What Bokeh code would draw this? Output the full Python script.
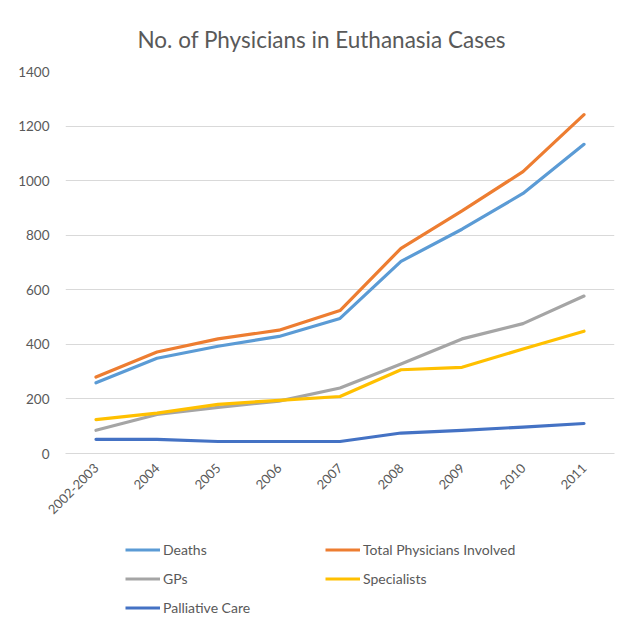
import math
from bokeh.plotting import figure
from bokeh.layouts import column
from bokeh.models import FactorRange, Range1d, Legend, LegendItem, SingleIntervalTicker
from bokeh.embed import file_html
from bokeh.resources import INLINE

years = ["2002-2003", "2004", "2005", "2006", "2007", "2008", "2009", "2010", "2011"]
deaths = [259, 349, 393, 429, 495, 704, 822, 953, 1133]
total_physicians = [280, 372, 420, 452, 524, 752, 889, 1033, 1242]
gps = [85, 143, 169, 192, 240, 328, 420, 476, 577]
specialists = [124, 148, 180, 195, 209, 307, 316, 383, 448]
palliative_care = [52, 52, 44, 44, 44, 75, 85, 97, 110]

series = [
    ("Deaths", deaths, "#5b9bd5"),
    ("Total Physicians Involved", total_physicians, "#ed7d31"),
    ("GPs", gps, "#a5a5a5"),
    ("Specialists", specialists, "#ffc000"),
    ("Palliative Care", palliative_care, "#4472c4"),
]

FONT = "Lato"
TEXT = "#595959"
LINE_W = 3.2

# main chart
p = figure(
    width=622, height=530,
    x_range=FactorRange(*years, range_padding=0),
    y_range=Range1d(0, 1400),
    output_backend="svg", toolbar_location=None,
    min_border_left=65, min_border_right=8,
    min_border_top=71, min_border_bottom=77,
)
p.title.text = "No. of Physicians in Euthanasia Cases"
p.title.align = "left"
p.title.offset = 72
p.title.text_font = FONT
p.title.text_font_size = "22.5px"
p.title.text_font_style = "normal"
p.title.text_color = TEXT
p.title.standoff = 37

p.outline_line_color = None
p.background_fill_color = "white"
p.border_fill_color = "white"

p.xgrid.grid_line_color = None
p.ygrid.grid_line_color = "#d9d9d9"
p.ygrid.grid_line_width = 1

p.yaxis.ticker = SingleIntervalTicker(interval=200)
p.yaxis.axis_line_color = None
p.yaxis.major_tick_line_color = None
p.yaxis.minor_tick_line_color = None
p.yaxis.major_label_text_font = FONT
p.yaxis.major_label_text_font_size = "13.5px"
p.yaxis.major_label_text_color = TEXT
p.yaxis.major_label_standoff = 10

p.xaxis.axis_line_color = "#d9d9d9"
p.xaxis.major_tick_line_color = None
p.xaxis.minor_tick_line_color = None
p.xaxis.major_label_orientation = math.pi / 4
p.xaxis.major_label_text_font = FONT
p.xaxis.major_label_text_font_size = "13px"
p.xaxis.major_label_text_color = TEXT
p.xaxis.major_label_standoff = 6

for name, vals, color in series:
    p.line(years, vals, line_color=color, line_width=LINE_W, line_join="round", line_cap="round")

# legend strip below the chart (its lines sit outside the visible y range)
leg = figure(
    width=622, height=96,
    x_range=FactorRange(*years, range_padding=0),
    y_range=Range1d(5000, 6000),
    output_backend="svg", toolbar_location=None,
    x_axis_location=None, y_axis_location=None,
    min_border=0,
)
leg.outline_line_color = None
leg.grid.grid_line_color = None
leg.border_fill_color = "white"

entries = {}
for name, vals, color in series:
    r = leg.line(years, vals, line_color=color, line_width=LINE_W)
    entries[name] = LegendItem(label=name, renderers=[r])

# the legend fills column by column, so list the left column first
order = ["Deaths", "GPs", "Palliative Care", "Total Physicians Involved", "Specialists"]
legend = Legend(
    items=[entries[n] for n in order], ncols=2, location=(60, 4),
    border_line_color=None, background_fill_alpha=0,
    label_text_font=FONT, label_text_font_size="14px", label_text_color=TEXT,
    glyph_width=35, glyph_height=29, label_height=29, label_width=162,
    label_standoff=3, spacing=0, padding=0, margin=0,
)
leg.add_layout(legend, "center")

layout = column(p, leg, spacing=0)
open("out.html", "w").write(file_html(layout, INLINE))
